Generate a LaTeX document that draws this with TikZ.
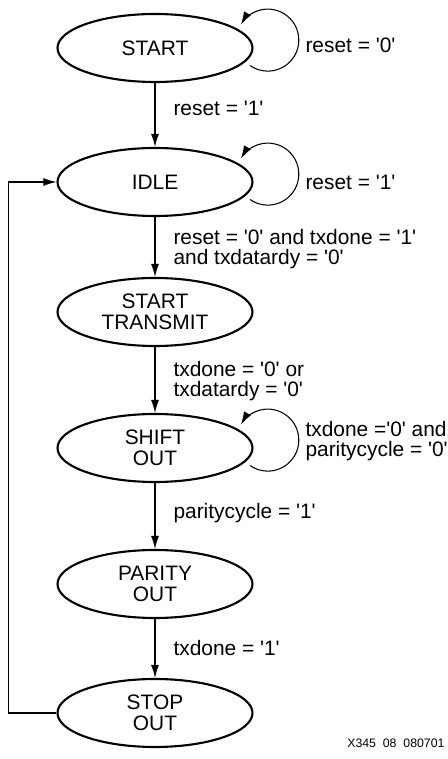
\documentclass[tikz,border=0pt]{standalone}
\usepackage{fontspec}
\setmainfont{Liberation Sans}[Ligatures=TeXOff]
\usetikzlibrary{shapes.geometric,arrows.meta,calc,positioning}

\begin{document}
\begin{tikzpicture}[
	state/.style={ellipse, draw, line width=1.2pt, minimum width=3.9cm, minimum height=1.36cm, inner sep=0pt, align=center, font=\fontsize{11.9}{12.2}\selectfont},
	cond/.style={inner sep=0pt, align=left, font=\fontsize{11.9}{11.4}\selectfont},
	every path/.style={line width=0.6pt},
	>={Latex[length=2.6mm,width=1.6mm]}]
	\useasboundingbox (0,0) rectangle (8.96,15.18);
	% states
	\node[state] (start) at (3.1,14.22) {START};
	\node[state] (idle) at (3.1,11.54) {IDLE};
	\node[state] (sttx) at (3.1,8.94) {START\\TRANSMIT};
	\node[state] (shift) at (3.1,6.22) {SHIFT\\OUT};
	\node[state] (parity) at (3.1,3.5) {PARITY\\OUT};
	\node[state] (stop) at (3.1,0.92) {STOP\\OUT};
	% transitions
	\draw[->] (start)--(idle) node[cond, pos=0.4, right=0.36cm] {reset = '1'};
	\draw[->] (idle)--(sttx) node[cond, pos=0.53, right=0.36cm] {reset = '0' and txdone = '1'\\and txdatardy = '0'};
	\draw[->] (sttx)--(shift) node[cond, pos=0.52, right=0.36cm] {txdone = '0' or\\txdatardy = '0'};
	\draw[->] (shift)--(parity) node[cond, pos=0.46, right=0.36cm] {paritycycle = '1'};
	\draw[->] (parity)--(stop) node[cond, midway, right=0.36cm] {txdone = '1'};
	\draw[->] (stop.west)--++(-0.95,0) |- (idle.west);
	% self loops
	\foreach \s in {start,idle,shift}
		\draw[->] ($(\s)+(1.9,-0.35)$) arc[start angle=-125, end angle=150, radius=0.62];
	\node[cond, anchor=west] (lstart) at ($(start)+(3.0,0.06)$) {reset = '0'};
	\node[cond, anchor=west] (lidle) at ($(idle)+(3.0,0)$) {reset = '1'};
	\node[cond, anchor=west] (lshift) at ($(shift)+(3.0,0.14)$) {txdone ='0' and\\paritycycle = '0'};
	% figure number
	\node[inner sep=0pt, anchor=east, font=\fontsize{7}{8}\selectfont] (fignum) at (8.9,0.32) {X345\ \ 08\ \ 080701};
\end{tikzpicture}
\end{document}
